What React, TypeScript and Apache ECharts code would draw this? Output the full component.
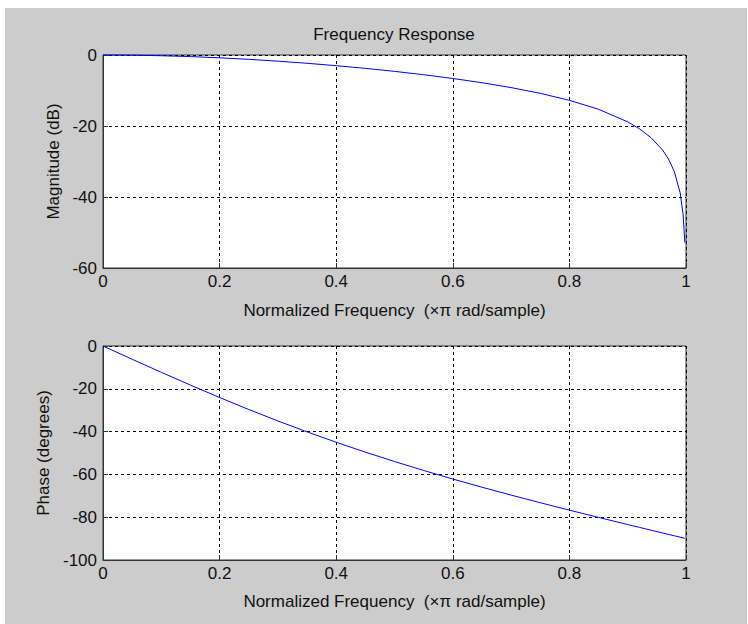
import React, { useEffect, useRef } from "react";
import * as echarts from "echarts";

// Normalized frequency (×π rad/sample)
const frequency = [
  0, 0.05, 0.1, 0.15, 0.2, 0.25, 0.3, 0.35, 0.4, 0.45, 0.5, 0.55, 0.6, 0.65,
  0.7, 0.75, 0.8, 0.85, 0.9, 0.92, 0.94, 0.96, 0.97, 0.98, 0.99, 0.995, 0.998,
];
// Magnitude (dB)
const magnitudeDb = [
  0, -0.051, -0.202, -0.45, -0.791, -1.221, -1.735, -2.331, -3.007, -3.765,
  -4.611, -5.554, -6.612, -7.808, -9.184, -10.8, -12.768, -15.291, -18.831,
  -20.775, -23.277, -26.8, -29.3, -32.83, -38.84, -44.87, -52.83,
];
// Phase (degrees)
const phaseDeg = [
  0, -6.178, -12.289, -18.272, -24.078, -29.669, -35.021, -40.124, -44.978,
  -49.591, -53.979, -58.159, -62.153, -65.983, -69.671, -73.239, -76.707,
  -80.098, -83.431, -84.752, -86.068, -87.381, -88.036, -88.691, -89.346,
  -89.673, -89.869,
];

const titleText = "Frequency Response";
const xName = "Normalized Frequency  (\u00d7\u03c0 rad/sample)";
const magName = "Magnitude (dB)";
const phaseName = "Phase (degrees)";

const FONT = "'Liberation Sans', Arial, sans-serif";
const FS = 17;

export default function App() {
  const ref = useRef<HTMLDivElement>(null);
  useEffect(() => {
    if (!ref.current) return;
    const chart = echarts.init(ref.current, undefined, { renderer: "svg" });
    const textStyle = { color: "#111", fontFamily: FONT, fontSize: FS };
    const split = {
      show: true,
      lineStyle: { color: "#000", width: 1, type: [3, 3] as any },
    };
    const xAxisBase = (gridIndex: number, gap: number) => ({
      type: "value",
      gridIndex,
      min: 0,
      max: 1,
      interval: 0.2,
      name: xName,
      nameLocation: "middle",
      nameGap: gap,
      nameTextStyle: textStyle,
      axisLine: { show: true, onZero: false, lineStyle: { color: "#333" } },
      axisTick: { show: true, inside: true, length: 5, lineStyle: { color: "#333" } },
      axisLabel: { ...textStyle, margin: 5 },
      splitLine: split,
    });
    const yAxisBase = (
      gridIndex: number,
      min: number,
      name: string,
      gap: number
    ) => ({
      type: "value",
      gridIndex,
      min,
      max: 0,
      interval: 20,
      name,
      nameLocation: "middle",
      nameGap: gap,
      nameTextStyle: textStyle,
      axisLine: { show: true, onZero: false, lineStyle: { color: "#333" } },
      axisTick: { show: true, inside: true, length: 5, lineStyle: { color: "#333" } },
      axisLabel: { ...textStyle, margin: 6 },
      splitLine: split,
    });
    chart.setOption({
      animation: false,
      backgroundColor: "#ffffff",
      textStyle: { fontFamily: FONT },
      graphic: [
        {
          type: "rect",
          z: -10,
          silent: true,
          shape: { x: 5, y: 8, width: 742, height: 616 },
          style: { fill: "#cccccc" },
        },
        {
          type: "text",
          x: 394,
          y: 34,
          style: {
            text: titleText,
            fill: "#111",
            font: `${FS}px ${FONT}`,
            textAlign: "center",
            textVerticalAlign: "middle",
          },
        },
      ],
      grid: [
        {
          left: 103,
          top: 55,
          width: 583,
          height: 213,
          show: true,
          backgroundColor: "#ffffff",
          borderColor: "#333",
          borderWidth: 1,
        },
        {
          left: 103,
          top: 346,
          width: 583,
          height: 214,
          show: true,
          backgroundColor: "#ffffff",
          borderColor: "#333",
          borderWidth: 1,
        },
      ],
      xAxis: [xAxisBase(0, 34), xAxisBase(1, 33)],
      yAxis: [
        yAxisBase(0, -60, magName, 34),
        yAxisBase(1, -100, phaseName, 49),
      ],
      series: [
        {
          type: "line",
          xAxisIndex: 0,
          yAxisIndex: 0,
          data: frequency.map((f, i) => [f, magnitudeDb[i]]),
          showSymbol: false,
          clip: false,
          lineStyle: { color: "#0000ff", width: 1 },
          itemStyle: { color: "#0000ff" },
        },
        {
          type: "line",
          xAxisIndex: 1,
          yAxisIndex: 1,
          data: frequency.map((f, i) => [f, phaseDeg[i]]),
          showSymbol: false,
          lineStyle: { color: "#0000ff", width: 1 },
          itemStyle: { color: "#0000ff" },
        },
      ],
    });
    return () => chart.dispose();
  }, []);
  return (
    <div
      ref={ref}
      style={{ position: "absolute", left: 0, top: 0, width: 748, height: 624 }}
    />
  );
}
